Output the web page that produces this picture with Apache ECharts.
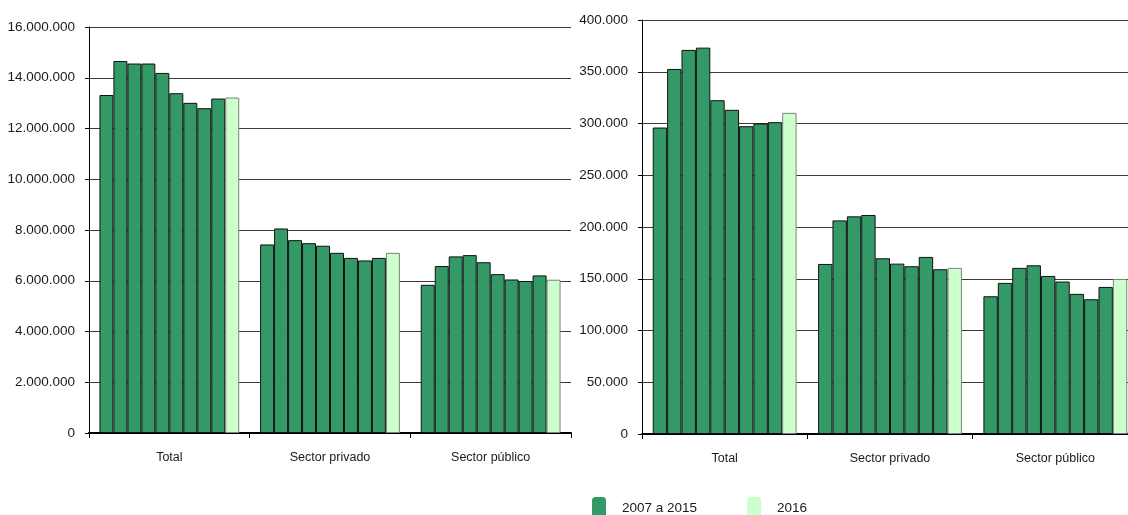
<!DOCTYPE html>
<html>
<head>
<meta charset="utf-8">
<script src="https://cdn.jsdelivr.net/npm/echarts@6/dist/echarts.min.js"></script>
<style>
html,body{margin:0;padding:0;background:#fff;}
#chart{width:1128px;height:515px;}
</style>
</head>
<body>
<div id="chart"></div>
<script>
const categories = ['Total', 'Sector privado', 'Sector público'];
const years = ['2007','2008','2009','2010','2011','2012','2013','2014','2015','2016'];
const legendNames = ['2007 a 2015', '2016'];

// Left chart (index = year 2007..2016)
const leftTotal   = [13320000,14660000,14560000,14560000,14190000,13390000,13010000,12800000,13180000,13220000];
const leftPrivado = [7430000,8060000,7600000,7480000,7380000,7100000,6900000,6800000,6900000,7100000];
const leftPublico = [5840000,6580000,6960000,7010000,6730000,6260000,6050000,5990000,6210000,6040000];

// Right chart
const rightTotal   = [296100,352700,371100,373300,322500,313200,297400,300000,301300,310300];
const rightPrivado = [164300,206400,210300,211600,169800,164600,162100,171100,159200,160500];
const rightPublico = [133100,146000,160500,163000,152700,147300,135400,130200,142100,149800];

const FONT = "'Liberation Sans', Arial, sans-serif";
const darkGreen = '#339966';
const lightGreen = '#ccffcc';

function fmt(v){ return String(v).replace(/\B(?=(\d{3})+(?!\d))/g, '.'); }

function makeX(gridIndex){
  return {
    type:'category', gridIndex, data:categories,
    axisLine:{lineStyle:{color:'#000', width:2}},
    axisTick:{show:true, length:5, lineStyle:{color:'#000', width:1}},
    axisLabel:{interval:0, color:'#1a1a1a', fontFamily:FONT, fontSize:12.5, margin:18}
  };
}
function makeY(gridIndex, max, interval){
  return {
    type:'value', gridIndex, min:0, max, interval,
    axisLine:{show:true, lineStyle:{color:'#000', width:1}},
    axisTick:{show:true, length:4, lineStyle:{color:'#000'}},
    axisLabel:{color:'#1a1a1a', fontFamily:FONT, fontSize:13.5, margin:14, formatter:fmt},
    splitLine:{show:true, lineStyle:{color:'#3a3a3a', width:1.2}}
  };
}

const series = [];
const sets = [[leftTotal,leftPrivado,leftPublico],[rightTotal,rightPrivado,rightPublico]];
sets.forEach((set, g) => {
  years.forEach((y, i) => {
    const last = i === years.length - 1;
    series.push({
      type:'bar',
      name: last ? legendNames[1] : legendNames[0],
      xAxisIndex:g, yAxisIndex:g,
      barGap:'0%', barCategoryGap:'13%',
      data:[set[0][i], set[1][i], set[2][i]],
      itemStyle:{
        color: last ? lightGreen : darkGreen,
        borderColor: last ? '#808080' : '#111',
        borderWidth:1
      },
      emphasis:{disabled:true}
    });
  });
});

const chart = echarts.init(document.getElementById('chart'), null, {renderer:'canvas'});
chart.setOption({
  animation:false,
  backgroundColor:'#fff',
  grid:[
    {left:89, top:27, width:482, height:406, containLabel:false, outerBoundsMode:'none'},
    {left:642, top:20, width:496, height:414, containLabel:false, outerBoundsMode:'none'}
  ],
  xAxis:[makeX(0), makeX(1)],
  yAxis:[makeY(0, 16000000, 2000000), makeY(1, 400000, 50000)],
  legend:{
    data:legendNames,
    left:592, top:497, padding:0,
    icon:'roundRect',
    itemWidth:14, itemHeight:22, itemGap:50,
    itemStyle:{borderWidth:0},
    textStyle:{fontFamily:FONT, fontSize:13.5, color:'#1a1a1a', padding:[0,0,0,11]}
  },
  series
});
</script>
</body>
</html>
